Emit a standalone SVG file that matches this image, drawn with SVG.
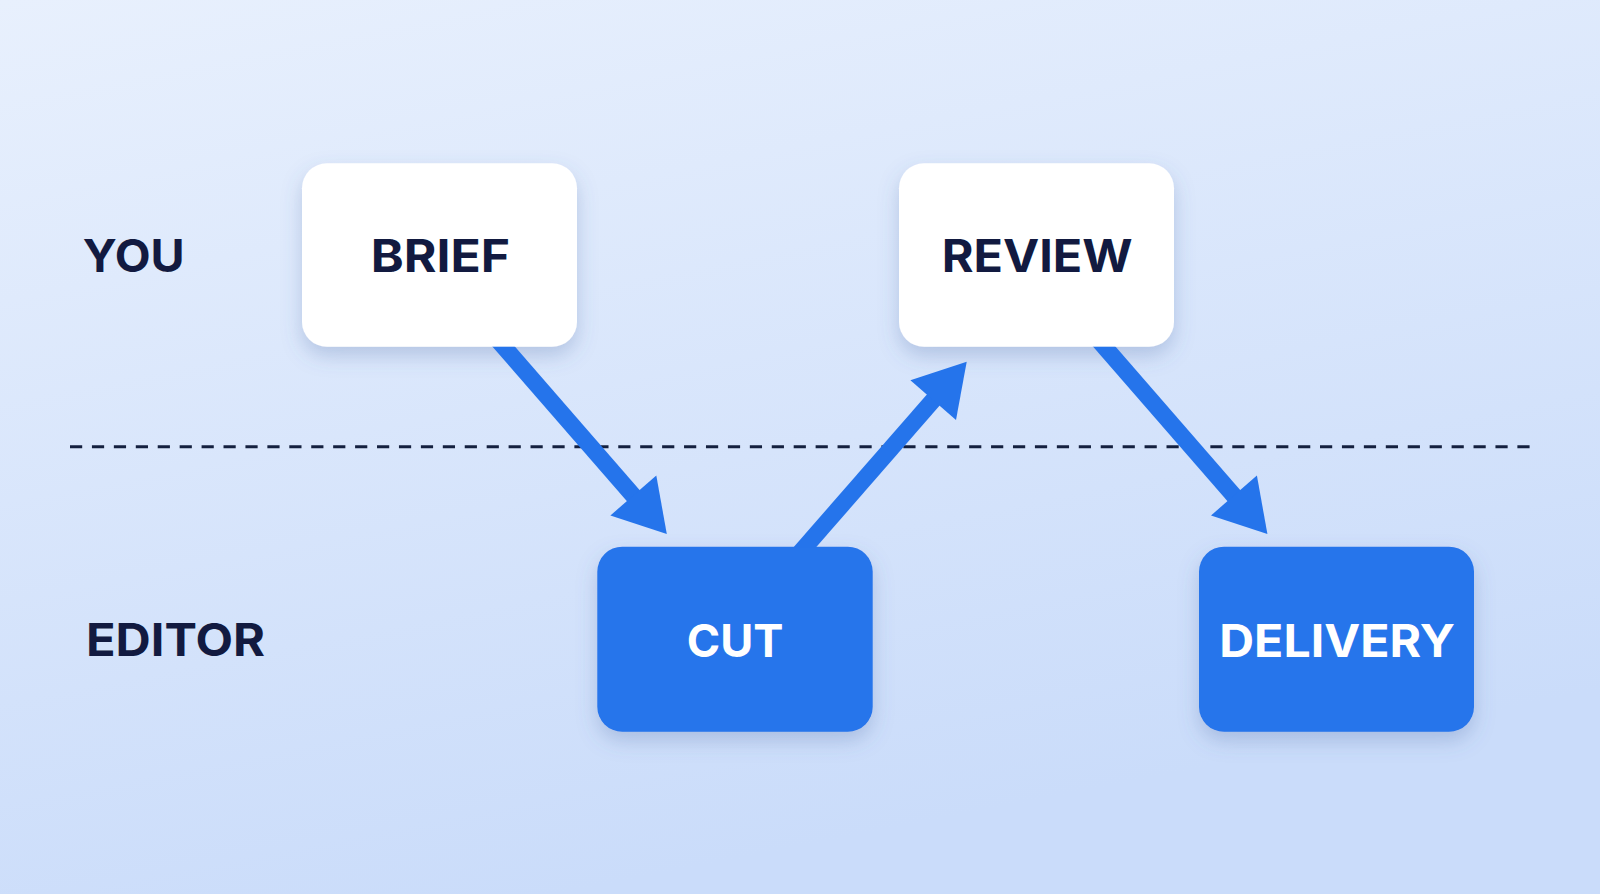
<svg xmlns="http://www.w3.org/2000/svg" width="1600" height="894" viewBox="0 0 1600 894">
<defs>
<linearGradient id="bg" x1="0" y1="0" x2="0.35" y2="1">
<stop offset="0" stop-color="#e8f0fd"/>
<stop offset="1" stop-color="#cadcfa"/>
</linearGradient>
<filter id="shadow" x="-20%" y="-20%" width="140%" height="150%">
<feDropShadow dx="0" dy="9" stdDeviation="10" flood-color="#4d6aa3" flood-opacity="0.28"/>
</filter>
<clipPath id="lane">
<rect x="0" y="346.7" width="1600" height="200.5"/>
</clipPath>
<style>
.lbl{font-family:Inter,"Liberation Sans",Arial,sans-serif;font-weight:700;font-size:45px;fill:#121a40;}
.wt{fill:#ffffff;}
.nodeW{fill:#ffffff;filter:url(#shadow);}
.nodeB{fill:#2574eb;filter:url(#shadow);}
.shaft{stroke:#2574eb;stroke-width:17;fill:none;stroke-linecap:butt;}
.head{fill:#2574eb;}
.divider{stroke:#14203f;stroke-width:3;stroke-dasharray:12.2 9.73;}
</style>
</defs>
<rect x="0" y="0" width="1600" height="894" fill="url(#bg)"/>

<g id="lanes">
<text class="lbl" x="82.7" y="271.7" textLength="102" lengthAdjust="spacingAndGlyphs">YOU</text>
<text class="lbl" x="86" y="656.3" textLength="179" lengthAdjust="spacingAndGlyphs">EDITOR</text>
<line class="divider" x1="70" y1="446.7" x2="1531" y2="446.7"/>
</g>

<g id="node-brief">
<rect class="nodeW" x="302" y="163.3" width="275" height="183.4" rx="25"/>
<text class="lbl" x="370.7" y="271.7" textLength="139.3" lengthAdjust="spacingAndGlyphs">BRIEF</text>
</g>
<g id="node-review">
<rect class="nodeW" x="899" y="163.3" width="275" height="183.4" rx="25"/>
<text class="lbl" x="941.7" y="271.7" textLength="191" lengthAdjust="spacingAndGlyphs">REVIEW</text>
</g>
<g id="node-cut">
<rect class="nodeB" x="597.3" y="546.7" width="275.4" height="185" rx="25"/>
<text class="lbl wt" x="686.7" y="656.7" textLength="96.7" lengthAdjust="spacingAndGlyphs">CUT</text>
</g>
<g id="node-delivery">
<rect class="nodeB" x="1199" y="546.7" width="275" height="185" rx="25"/>
<text class="lbl wt" x="1219.3" y="656.7" textLength="235.7" lengthAdjust="spacingAndGlyphs">DELIVERY</text>
</g>

<g id="connectors" clip-path="url(#lane)">
<line class="shaft" x1="493.6" y1="335" x2="636.2" y2="499"/>
<polygon class="head" points="666.8,534 610.4,515.45 656.3,475.55"/>
<line class="shaft" x1="793.7" y1="560" x2="935.9" y2="397"/>
<polygon class="head" points="966.7,361.7 910.4,380.2 956,420"/>
<line class="shaft" x1="1094.2" y1="335" x2="1236.8" y2="499"/>
<polygon class="head" points="1267.4,534 1211,515.45 1256.9,475.55"/>
</g>
</svg>
